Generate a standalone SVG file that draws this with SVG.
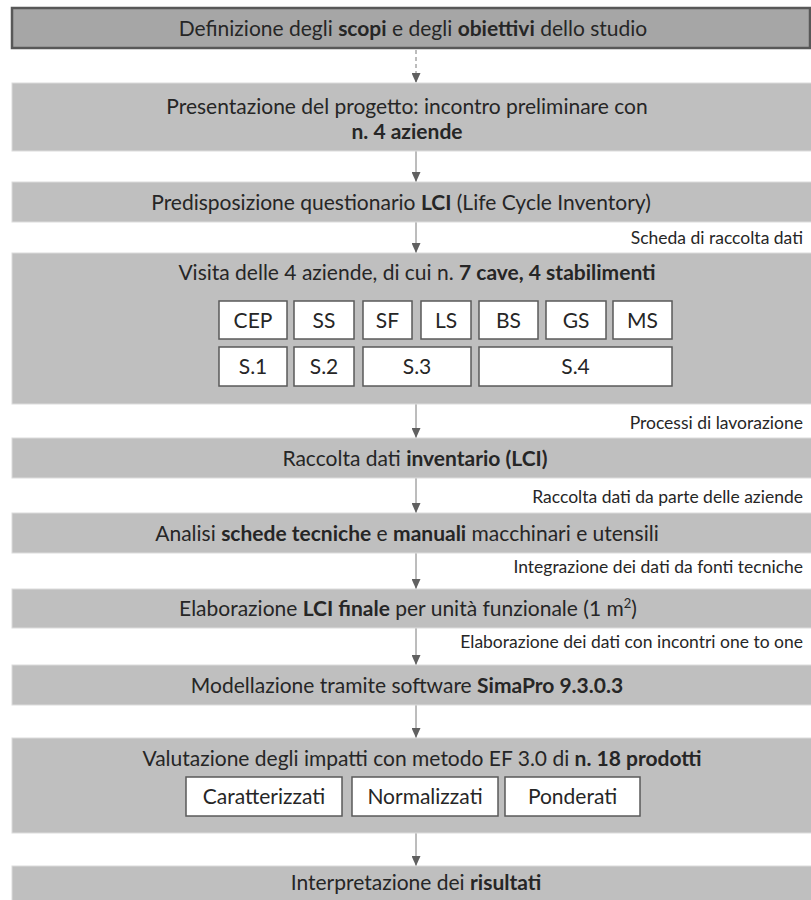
<svg xmlns="http://www.w3.org/2000/svg" width="811" height="900" viewBox="0 0 811 900">
<defs>
<marker id="ah" markerWidth="10" markerHeight="9" refX="10" refY="4.5" orient="auto" markerUnits="userSpaceOnUse" viewBox="0 0 10 9">
<path d="M0,0 L10,4.5 L0,9 Z" fill="#606060"/>
</marker>
<style>
.main{fill:#bfbfbf;stroke:#dcdcdc;stroke-width:1}
.top{fill:#a6a6a6;stroke:#585858;stroke-width:2.5}
.sub{fill:#ffffff;stroke:#5a5a5a;stroke-width:1.5}
text{font-family:Lato,"Open Sans","Liberation Sans",sans-serif;fill:#262626}
.t{font-size:21px;text-anchor:middle}
.l{font-size:17.5px;text-anchor:end}
.b{font-weight:bold}
.c{stroke:#7a7a7a;stroke-width:1;fill:none}
</style>
</defs>
<g id="connectors">
<line class="c" x1="416" y1="50" x2="416" y2="83" stroke-dasharray="4,3" marker-end="url(#ah)"/>
<line class="c" x1="416" y1="151" x2="416" y2="182" marker-end="url(#ah)"/>
<line class="c" x1="416" y1="222" x2="416" y2="253" marker-end="url(#ah)"/>
<line class="c" x1="416" y1="404" x2="416" y2="438" marker-end="url(#ah)"/>
<line class="c" x1="416" y1="478" x2="416" y2="513" marker-end="url(#ah)"/>
<line class="c" x1="416" y1="553" x2="416" y2="589" marker-end="url(#ah)"/>
<line class="c" x1="416" y1="628" x2="416" y2="665" marker-end="url(#ah)"/>
<line class="c" x1="416" y1="705" x2="416" y2="738" marker-end="url(#ah)"/>
<line class="c" x1="416" y1="833" x2="416" y2="866" marker-end="url(#ah)"/>
<text class="l" x="803" y="244">Scheda di raccolta dati</text>
<text class="l" x="803" y="429">Processi di lavorazione</text>
<text class="l" x="803" y="503">Raccolta dati da parte delle aziende</text>
<text class="l" x="803" y="573">Integrazione dei dati da fonti tecniche</text>
<text class="l" x="803" y="648">Elaborazione dei dati con incontri one to one</text>
</g>
<g id="n1">
<rect class="top" x="12" y="8" width="798" height="40"/>
<text class="t" x="413" y="35.5">Definizione degli <tspan class="b">scopi</tspan> e degli <tspan class="b">obiettivi</tspan> dello studio</text>
</g>
<g id="n2">
<rect class="main" x="12" y="83" width="800" height="68"/>
<text class="t" x="407" y="114">Presentazione del progetto: incontro preliminare con</text>
<text class="t b" x="407" y="139">n. 4 aziende</text>
</g>
<g id="n3">
<rect class="main" x="12" y="182" width="800" height="40"/>
<text class="t" x="401" y="209.5">Predisposizione questionario <tspan class="b">LCI</tspan> (Life Cycle Inventory)</text>
</g>
<g id="n4">
<rect class="main" x="12" y="253" width="800" height="151"/>
<text class="t" x="417" y="280">Visita delle 4 aziende, di cui n. <tspan class="b">7 cave, 4 stabilimenti</tspan></text>
<g id="n4-cep"><rect class="sub" x="219" y="301" width="68" height="38"/><text class="t" x="253" y="327.5">CEP</text></g>
<g id="n4-ss"><rect class="sub" x="294" y="301" width="60" height="38"/><text class="t" x="324" y="327.5">SS</text></g>
<g id="n4-sf"><rect class="sub" x="363" y="301" width="49" height="38"/><text class="t" x="387.5" y="327.5">SF</text></g>
<g id="n4-ls"><rect class="sub" x="421" y="301" width="50" height="38"/><text class="t" x="446" y="327.5">LS</text></g>
<g id="n4-bs"><rect class="sub" x="479" y="301" width="59" height="38"/><text class="t" x="508.5" y="327.5">BS</text></g>
<g id="n4-gs"><rect class="sub" x="546" y="301" width="60" height="38"/><text class="t" x="576" y="327.5">GS</text></g>
<g id="n4-ms"><rect class="sub" x="613" y="301" width="59" height="38"/><text class="t" x="642.5" y="327.5">MS</text></g>
<g id="n4-s1"><rect class="sub" x="219" y="347" width="68" height="39"/><text class="t" x="253" y="374">S.1</text></g>
<g id="n4-s2"><rect class="sub" x="294" y="347" width="60" height="39"/><text class="t" x="324" y="374">S.2</text></g>
<g id="n4-s3"><rect class="sub" x="363" y="347" width="108" height="39"/><text class="t" x="417" y="374">S.3</text></g>
<g id="n4-s4"><rect class="sub" x="479" y="347" width="193" height="39"/><text class="t" x="575.5" y="374">S.4</text></g>
</g>
<g id="n5">
<rect class="main" x="12" y="438" width="800" height="40"/>
<text class="t" x="415" y="465.5">Raccolta dati <tspan class="b">inventario (LCI)</tspan></text>
</g>
<g id="n6">
<rect class="main" x="12" y="513" width="800" height="40"/>
<text class="t" x="407" y="540.5">Analisi <tspan class="b">schede tecniche</tspan> e <tspan class="b">manuali</tspan> macchinari e utensili</text>
</g>
<g id="n7">
<rect class="main" x="12" y="589" width="800" height="39"/>
<text class="t" x="408" y="616">Elaborazione <tspan class="b">LCI finale</tspan> per unità funzionale (1 m<tspan font-size="13" dy="-8">2</tspan><tspan dy="8">)</tspan></text>
</g>
<g id="n8">
<rect class="main" x="12" y="665" width="800" height="40"/>
<text class="t" x="407" y="692.5">Modellazione tramite software <tspan class="b">SimaPro 9.3.0.3</tspan></text>
</g>
<g id="n9">
<rect class="main" x="12" y="738" width="800" height="95"/>
<text class="t" x="422" y="765.5">Valutazione degli impatti con metodo EF 3.0 di <tspan class="b">n. 18 prodotti</tspan></text>
<g id="n9-car"><rect class="sub" x="186" y="777" width="156" height="39"/><text class="t" x="264" y="804">Caratterizzati</text></g>
<g id="n9-nor"><rect class="sub" x="352" y="777" width="146" height="39"/><text class="t" x="425" y="804">Normalizzati</text></g>
<g id="n9-pon"><rect class="sub" x="505" y="777" width="135" height="39"/><text class="t" x="572.5" y="804">Ponderati</text></g>
</g>
<g id="n10">
<rect class="main" x="12" y="866" width="800" height="40"/>
<text class="t" x="416" y="890">Interpretazione dei <tspan class="b">risultati</tspan></text>
</g>
</svg>
